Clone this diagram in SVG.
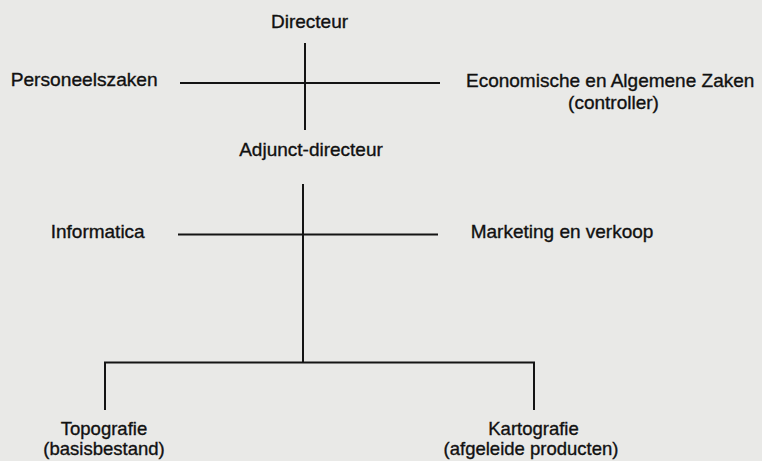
<svg xmlns="http://www.w3.org/2000/svg" width="762" height="461" viewBox="0 0 762 461">
<style>
  .bg { fill: #e9e9e7; }
  .lbl { font-family: "Liberation Sans", Arial, Helvetica, sans-serif; font-size: 19px; fill: #111111; stroke: #111111; stroke-width: 0.35px; }
  .sm { font-size: 18.5px; }
  .mid { text-anchor: middle; }
  .ln { stroke: #141414; stroke-width: 2; fill: none; stroke-linecap: butt; }
</style>
<rect class="bg" x="0" y="0" width="762" height="461"/>
<g id="connectors">
  <line class="ln" x1="305" y1="43" x2="305" y2="130"/>
  <line class="ln" x1="180" y1="83" x2="440" y2="83"/>
  <line class="ln" x1="303" y1="184" x2="303" y2="363"/>
  <line class="ln" x1="178" y1="234.5" x2="438" y2="234.5"/>
  <polyline class="ln" points="105,410 105,362.5 534,362.5 534,410"/>
</g>
<g id="directeur">
  <text class="lbl mid" x="309.5" y="28">Directeur</text>
</g>
<g id="personeelszaken">
  <text class="lbl" x="10.7" y="86" textLength="147" lengthAdjust="spacingAndGlyphs">Personeelszaken</text>
</g>
<g id="economische-zaken">
  <text class="lbl" x="466" y="87">Economische en Algemene Zaken</text>
  <text class="lbl mid" x="613.5" y="109">(controller)</text>
</g>
<g id="adjunct-directeur">
  <text class="lbl mid" x="311" y="156">Adjunct-directeur</text>
</g>
<g id="informatica">
  <text class="lbl" x="50.7" y="237.5">Informatica</text>
</g>
<g id="marketing">
  <text class="lbl" x="470.7" y="238">Marketing en verkoop</text>
</g>
<g id="topografie">
  <text class="lbl sm mid" x="104" y="435">Topografie</text>
  <text class="lbl sm mid" x="104" y="455">(basisbestand)</text>
</g>
<g id="kartografie">
  <text class="lbl sm mid" x="533.5" y="435">Kartografie</text>
  <text class="lbl sm mid" x="531" y="455">(afgeleide producten)</text>
</g>
</svg>
